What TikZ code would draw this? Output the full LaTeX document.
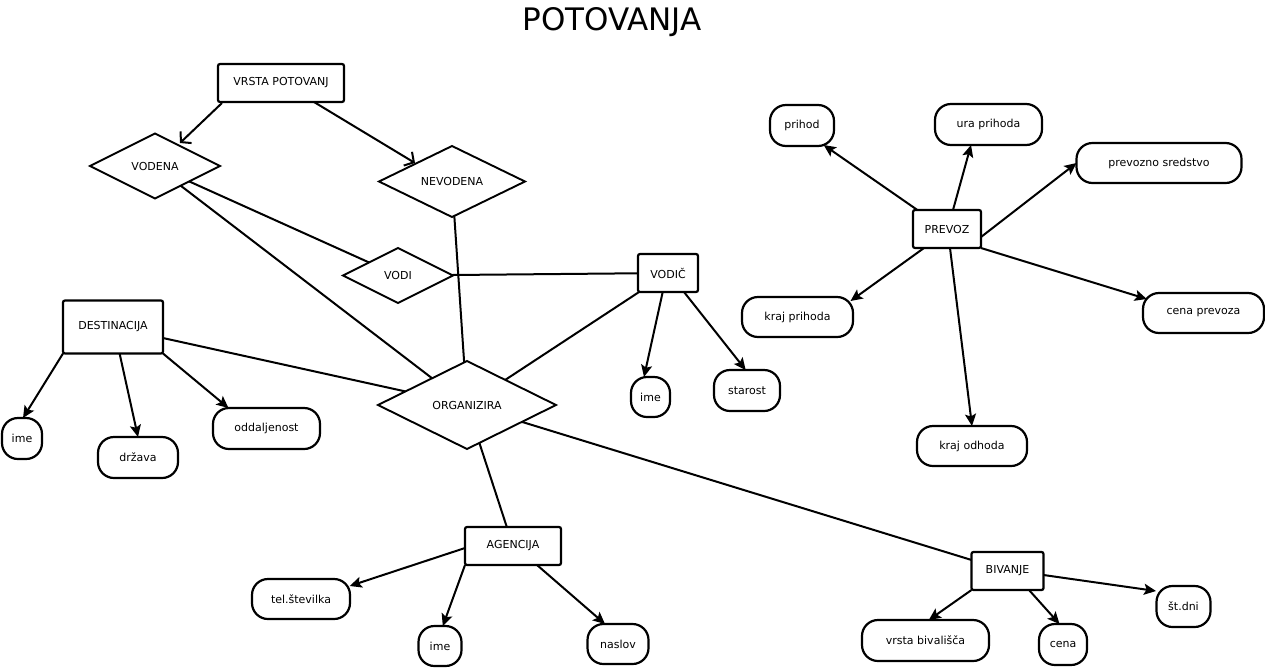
\documentclass[tikz,border=0pt]{standalone}
\usepackage{fontspec}
\setmainfont{DejaVu Sans}
\usetikzlibrary{shapes.geometric,arrows.meta,calc}
\tikzset{
  ent/.style={draw, line width=2.2pt, rounded corners=2pt, rectangle, inner sep=0pt, outer sep=0pt, font=\fontsize{11}{13}\selectfont},
  rel/.style={draw, line width=1.9pt, diamond, inner sep=0pt, outer sep=0pt, font=\fontsize{11}{13}\selectfont},
  attr/.style={draw, line width=2.2pt, rounded corners=16pt, rectangle, inner sep=0pt, outer sep=0pt, font=\fontsize{11}{13}\selectfont},
  ln/.style={draw, line width=2pt},
  arr/.style={draw, line width=2pt, -{Stealth[length=12pt,width=11pt,inset=2.5pt]}},
  oarr/.style={draw, line width=2pt, -{Straight Barb[length=7pt,width=16pt]}}
}
\begin{document}
\begin{tikzpicture}[x=1pt,y=-1pt]
\useasboundingbox (0,0) rectangle (1265,667);
\fill[white] (0,0) rectangle (1265,667);
\node (title) at (612,22) {\fontsize{31}{36}\selectfont POTOVANJA};
% entities
\node[ent, minimum width=126pt, minimum height=38pt] (vrsta) at (281,83) {VRSTA POTOVANJ};
\node[ent, minimum width=100pt, minimum height=53pt] (dest) at (113,327) {DESTINACIJA};
\node[ent, minimum width=60pt, minimum height=38pt] (vodic) at (668,273) {VODIČ};
\node[ent, minimum width=68pt, minimum height=38pt] (prevoz) at (947,229) {PREVOZ};
\node[ent, minimum width=96pt, minimum height=38pt] (agencija) at (513,546) {AGENCIJA};
\node[ent, minimum width=72pt, minimum height=38pt] (bivanje) at (1007.5,571) {BIVANJE};
% relationships
\node[rel, minimum width=130pt, minimum height=65pt] (vodena) at (155,166) {VODENA};
\node[rel, minimum width=146pt, minimum height=71pt] (nevodena) at (452,181.5) {NEVODENA};
\node[rel, minimum width=110pt, minimum height=55pt] (vodi) at (398,275.5) {VODI};
\node[rel, minimum width=178pt, minimum height=88pt] (org) at (467,405) {ORGANIZIRA};
% attributes
\node[attr, minimum width=40pt, minimum height=41pt] (ime1) at (22,438.5) {ime};
\node[attr, minimum width=80pt, minimum height=41pt] (drzava) at (138,457.5) {država};
\node[attr, minimum width=107pt, minimum height=41pt] (odd) at (266.5,428.5) {oddaljenost};
\node[attr, minimum width=39pt, minimum height=40pt] (ime2) at (650.5,397) {ime};
\node[attr, minimum width=66pt, minimum height=41pt] (starost) at (747,390.5) {starost};
\node[attr, minimum width=64pt, minimum height=41pt] (prihod) at (802,125.5) {prihod};
\node[attr, minimum width=107pt, minimum height=41pt] (ura) at (988.5,124.5) {ura prihoda};
\node[attr, minimum width=165pt, minimum height=40pt] (prevozno) at (1159,163) {prevozno sredstvo};
\node[attr, minimum width=111pt, minimum height=40pt] (krajpr) at (797.5,317) {kraj prihoda};
\node[attr, minimum width=121pt, minimum height=40pt] (cenapr) at (1203.5,313) {cena prevoza};
\node[attr, minimum width=110pt, minimum height=40pt] (krajod) at (972,446) {kraj odhoda};
\node[attr, minimum width=98pt, minimum height=40pt] (tel) at (301,599) {tel.številka};
\node[attr, minimum width=43pt, minimum height=40pt] (ime3) at (440,646) {ime};
\node[attr, minimum width=61pt, minimum height=40pt] (naslov) at (618,644) {naslov};
\node[attr, minimum width=127pt, minimum height=41pt] (vrstab) at (925.5,640.5) {vrsta bivališča};
\node[attr, minimum width=48pt, minimum height=41pt] (cena) at (1063,644.5) {cena};
\node[attr, minimum width=54pt, minimum height=41pt] (stdni) at (1183.5,606.5) {št.dni};
% open arrows
\draw[oarr] ($(vrsta)+(-59,20)$) -- ($(vodena)+(25,-23)$);
\draw[oarr] ($(vrsta)+(33,19)$) -- ($(nevodena)+(-37,-18.5)$);
% plain lines
\draw[ln] (vodena) -- (vodi);
\draw[ln] (vodena) -- (org);
\draw[ln] (nevodena) -- (org);
\draw[ln] (vodi) -- (vodic);
\draw[ln] (vodic) -- (org);
\draw[ln] (dest) -- (org);
\draw[ln] (org) -- (agencija);
\draw[ln] (org) -- (bivanje);
% attribute arrows
\draw[arr] (dest.south west) -- ($(ime1.north)+(1,0)$);
\draw[arr] ($(dest.south)+(6.6,0)$) -- (drzava.north);
\draw[arr] (dest.south east) -- ($(odd.north west)+(15.5,0)$);
\draw[arr] ($(vodic.south)+(-5.3,0)$) -- ($(ime2.north)+(-6.5,0)$);
\draw[arr] ($(vodic.south)+(16,0)$) -- ($(starost.north)+(-1.3,0)$);
\draw[arr] ($(prevoz.north west)+(4.4,0)$) -- ($(prihod)+(21.7,19.5)$);
\draw[arr] ($(prevoz.north)+(6,0)$) -- ($(ura.south)+(-17.5,0)$);
\draw[arr] ($(prevoz.east)+(0,8)$) -- (prevozno.west);
\draw[arr] ($(prevoz.south)+(-23,0)$) -- ($(krajpr)+(53,-16)$);
\draw[arr] ($(prevoz.south)+(3,0)$) -- (krajod.north);
\draw[arr] (prevoz.south east) -- ($(cenapr)+(-56.7,-14)$);
\draw[arr] ($(agencija.west)+(0,2)$) -- ($(tel)+(48.7,-13)$);
\draw[arr] (agencija.south west) -- ($(ime3.north)+(2.8,0)$);
\draw[arr] ($(agencija.south)+(24,0)$) -- ($(naslov.north)+(-13,0)$);
\draw[arr] (bivanje.south west) -- ($(vrstab.north)+(3.3,0)$);
\draw[arr] ($(bivanje.south)+(21.5,0)$) -- ($(cena.north)+(-3.5,0)$);
\draw[arr] ($(bivanje.east)+(0,4)$) -- ($(stdni)+(-27.5,-15.5)$);
\end{tikzpicture}
\end{document}
